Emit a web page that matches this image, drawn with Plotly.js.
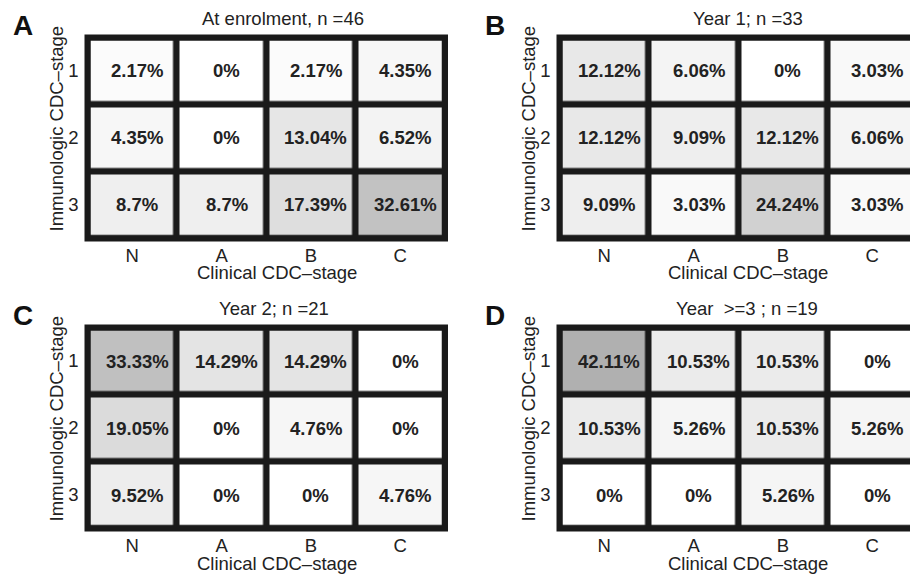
<!DOCTYPE html>
<html><head><meta charset="utf-8">
<script src="https://cdn.plot.ly/plotly-3.0.1.min.js"></script>
<style>html,body{margin:0;padding:0;overflow:hidden;background:#fff}</style>
</head><body><div id="chart" style="width:930px;height:576px"></div>
<script>
// ---- data ----
const clinicalStages = ['N', 'A', 'B', 'C'];
const immunoStages = ['1', '2', '3'];
const panelLetters = ['A', 'B', 'C', 'D'];
const panelTitles = ['At enrolment, n =46', 'Year 1; n =33', 'Year 2; n =21', 'Year\u00a0 >=3 ; n =19'];
const enrolment = [[2.17, 0, 2.17, 4.35], [4.35, 0, 13.04, 6.52], [8.7, 8.7, 17.39, 32.61]];
const year1 = [[12.12, 6.06, 0, 3.03], [12.12, 9.09, 12.12, 6.06], [9.09, 3.03, 24.24, 3.03]];
const year2 = [[33.33, 14.29, 14.29, 0], [19.05, 0, 4.76, 0], [9.52, 0, 0, 4.76]];
const year3plus = [[42.11, 10.53, 10.53, 0], [10.53, 5.26, 10.53, 5.26], [0, 0, 5.26, 0]];
const xTitle = 'Clinical CDC\u2013stage';
const yTitle = 'Immunologic CDC\u2013stage';

// ---- layout geometry ----
const W = 930, H = 576;
const FONT = 'Liberation Sans, Arial, Helvetica, sans-serif';
const TXT = '#222222';
const panelData = [enrolment, year1, year2, year3plus];
const boxes = [
  {l: 87.5, t: 37.5, title: 283, xt: 277},
  {l: 559.5, t: 37.5, title: 748, xt: 748},
  {l: 87.5, t: 327.5, title: 274, xt: 277},
  {l: 559.5, t: 327.5, title: 747, xt: 748}
];
const PW = 357.5, PH = 201;

const fmt = v => (v === 0 ? '0' : String(v)) + '%';

const traces = [];
const annotations = [];
const shapes = [];
const layout = {
  width: W, height: H,
  margin: {l: 0, r: 0, t: 0, b: 0},
  paper_bgcolor: '#ffffff',
  plot_bgcolor: '#1a1a1a',
  showlegend: false,
  font: {family: FONT, size: 18.5, color: TXT},
  annotations: annotations,
  shapes: shapes
};

panelData.forEach((z, i) => {
  const b = boxes[i];
  const k = i === 0 ? '' : String(i + 1);
  const xa = 'x' + k, ya = 'y' + k;
  traces.push({
    type: 'heatmap',
    x: clinicalStages, y: immunoStages, z: z,
    xaxis: xa, yaxis: ya,
    zmin: 0, zmax: 100,
    colorscale: [[0, '#ffffff'], [1, '#434343']],
    showscale: false,
    xgap: 6.5, ygap: 6.5,
    hoverinfo: 'skip'
  });
  layout['xaxis' + k] = {
    domain: [b.l / W, (b.l + PW) / W],
    anchor: ya,
    type: 'category',
    range: [-0.5, 3.5],
    showgrid: false, zeroline: false, showline: false,
    ticks: '',
    ticklabelstandoff: 4,
    tickfont: {family: FONT, size: 18.5, color: TXT},
    fixedrange: true
  };
  layout['yaxis' + k] = {
    domain: [1 - (b.t + PH) / H, 1 - b.t / H],
    anchor: xa,
    type: 'category',
    range: [2.5, -0.5],
    showgrid: false, zeroline: false, showline: false,
    ticks: '',
    ticklabelstandoff: 8,
    tickfont: {family: FONT, size: 18.5, color: TXT},
    fixedrange: true
  };
  shapes.push({
    type: 'rect', xref: xa + ' domain', yref: ya + ' domain',
    x0: 0, x1: 1, y0: 0, y1: 1,
    line: {color: '#1a1a1a', width: 6}, fillcolor: 'rgba(0,0,0,0)'
  });
  // cell labels (positions by category index)
  z.forEach((row, r) => {
    row.forEach((v, c) => {
      annotations.push({
        xref: xa, yref: ya, x: c, y: r,
        text: '<b>' + fmt(v) + '</b>', showarrow: false, xshift: 5,
        font: {family: FONT, size: 18.5, color: TXT}
      });
    });
  });
  // panel title
  annotations.push({
    xref: 'paper', yref: 'paper', x: b.title / W, y: 1 - (b.t - 19.5) / H,
    text: panelTitles[i], showarrow: false, xanchor: 'center', yanchor: 'middle',
    font: {family: FONT, size: 18.5, color: TXT}
  });
  // panel letter
  annotations.push({
    xref: 'paper', yref: 'paper', x: (b.l - 65) / W, y: 1 - (b.t - 12.5) / H,
    text: '<b>' + panelLetters[i] + '</b>', showarrow: false, xanchor: 'center', yanchor: 'middle',
    font: {family: FONT, size: 28, color: '#111111'}
  });
  // x title
  annotations.push({
    xref: 'paper', yref: 'paper', x: b.xt / W, y: 1 - (b.t + 235.5) / H,
    text: xTitle, showarrow: false, xanchor: 'center', yanchor: 'middle',
    font: {family: FONT, size: 18.5, color: TXT}
  });
  // y title
  annotations.push({
    xref: 'paper', yref: 'paper', x: (b.l - 32) / W, y: 1 - (b.t + 91.5) / H,
    text: yTitle, showarrow: false, xanchor: 'center', yanchor: 'middle', textangle: -90,
    font: {family: FONT, size: 18.5, color: TXT}
  });
});

Plotly.newPlot('chart', traces, layout, {displayModeBar: false, staticPlot: true});
</script>
</body></html>
